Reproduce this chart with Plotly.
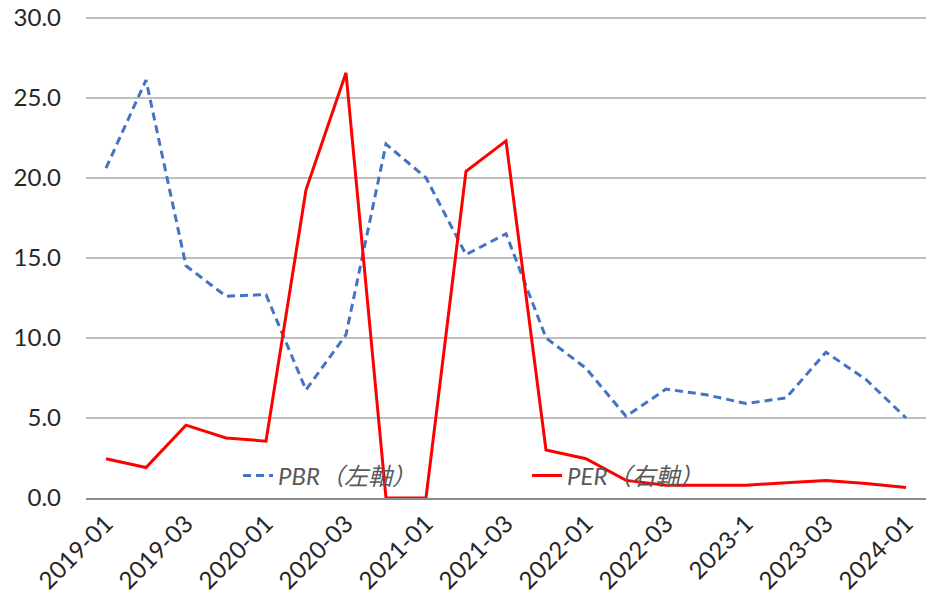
import plotly.graph_objects as go

# quarterly periods (labels shown on every other one)
periods = ["2019-01", "2019-02", "2019-03", "2019-04",
           "2020-01", "2020-02", "2020-03", "2020-04",
           "2021-01", "2021-02", "2021-03", "2021-04",
           "2022-01", "2022-02", "2022-03", "2022-04",
           "2023-1", "2023-02", "2023-03", "2023-04",
           "2024-01"]
tick_labels = ["2019-01", "2019-03", "2020-01", "2020-03", "2021-01", "2021-03",
               "2022-01", "2022-03", "2023-1", "2023-03", "2024-01"]

pbr = [20.6, 26.1, 14.5, 12.6, 12.7, 6.75, 10.2, 22.1, 20.0, 15.2, 16.5,
       10.0, 8.1, 5.1, 6.8, 6.45, 5.9, 6.25, 9.1, 7.4, 5.0]
per = [2.45, 1.9, 4.55, 3.75, 3.55, 19.25, 26.55, 0.0, 0.0, 20.4, 22.3,
       3.0, 2.45, 1.1, 0.8, 0.8, 0.8, 0.95, 1.1, 0.9, 0.65]

fnt = "Lato, Noto Sans CJK JP, sans-serif"

fig = go.Figure()
fig.add_trace(go.Scatter(x=periods, y=pbr, mode="lines", name="<i>PBR（左軸）</i>",
                         line=dict(color="#4472C4", width=3, dash="8px,5px")))
fig.add_trace(go.Scatter(x=periods, y=per, mode="lines", name="<i>PER（右軸）</i>",
                         yaxis="y2",
                         line=dict(color="#FF0000", width=3)))

# range goes a hair past 30 so the top grid line is still drawn
yr = [0, 30.1]

fig.update_layout(
    width=926, height=605,
    margin=dict(l=86, r=0, t=16, b=107),
    plot_bgcolor="white", paper_bgcolor="white",
    font=dict(family=fnt, size=24, color="#404040"),
    showlegend=True,
    legend=dict(orientation="h", x=0.181, xanchor="left", y=0.046, yanchor="middle",
                bgcolor="rgba(0,0,0,0)", font=dict(size=24, color="#595959"),
                entrywidth=244, entrywidthmode="pixels"),
    xaxis=dict(type="category", categoryorder="array", categoryarray=periods,
               range=[-0.5, 20.5], tickvals=tick_labels, ticktext=tick_labels,
               tickangle=-45, showgrid=False, ticks="", automargin=False,
               ticklabeloverflow="allow",
               showline=True, linecolor="#8c8c8c", linewidth=2,
               tickfont=dict(size=24, color="#262626")),
    yaxis=dict(range=yr, dtick=5, tickformat=".1f", automargin=False,
               ticklabeloverflow="allow",
               showgrid=True, gridcolor="#bfbfbf", gridwidth=2,
               zeroline=False, ticks="", ticklabelstandoff=24,
               tickfont=dict(size=24, color="#262626")),
    yaxis2=dict(range=yr, overlaying="y", side="right", visible=False),
)

# drop the default 8px page margin so the figure fills the window
fig.write_html("out.html", config={"displayModeBar": False},
               post_script="document.body.style.margin='0';")
